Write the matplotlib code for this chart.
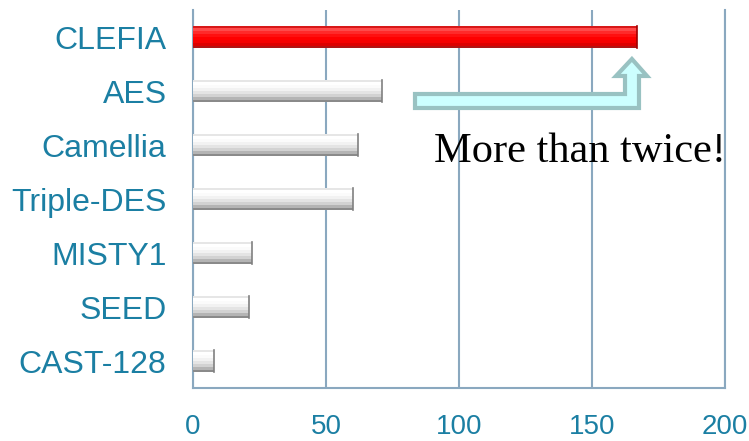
import matplotlib
matplotlib.use('Agg')
import matplotlib.pyplot as plt
from matplotlib.patches import Polygon
import numpy as np

# 数据
ciphers = ['CLEFIA', 'AES', 'Camellia', 'Triple-DES', 'MISTY1', 'SEED', 'CAST-128']
values = [167, 71, 62, 60, 22, 21, 8]
x_ticks = [0, 50, 100, 150, 200]

label_color = '#1b7fa3'
grid_color = '#8aa8bf'

# 渐变条的配色（从上到下）
red_shades = ['#d81818', '#ff4a4a', '#ff2a2a', '#ff1010', '#ff0000', '#f40000', '#dc0000', '#b01414']
white_shades = ['#e6e6e6', '#ffffff', '#fbfbfb', '#f2f2f2', '#e4e4e4', '#d2d2d2', '#b4b4b4', '#8a8a8a']


def bevel_bar(ax, y, w, h, shades, end_color):
    # y轴是反转的，k=0的条带在最上面
    n = len(shades)
    sh = h / n
    for k, c in enumerate(shades):
        yc = y - h / 2 + sh * (k + 0.5)
        ax.barh(yc, w, height=sh, color=c, edgecolor='none', zorder=3)
    # 右端的暗边
    ax.plot([w, w], [y - h / 2, y + h / 2], color=end_color, linewidth=1.2, zorder=3)


if __name__ == '__main__':
    fig = plt.figure(figsize=(7.49, 4.41), dpi=100)
    ax = fig.add_axes([193 / 749, 53 / 441, 532 / 749, 378 / 441])

    ys = np.arange(len(ciphers))
    bar_h = 0.42
    for i, v in enumerate(values):
        if i == 0:
            bevel_bar(ax, ys[i], v, bar_h, red_shades, '#a00000')
        else:
            bevel_bar(ax, ys[i], v, bar_h, white_shades, '#808080')

    ax.set_xlim(0, 200)
    ax.set_ylim(len(ciphers) - 0.5, -0.5)
    ax.set_xticks(x_ticks)
    ax.set_yticks(ys)
    ax.set_yticklabels(ciphers)
    ax.tick_params(axis='both', length=0, colors=label_color)
    ax.tick_params(axis='y', pad=19, labelsize=23)
    ax.tick_params(axis='x', pad=19, labelsize=20)
    for lab in ax.get_xticklabels() + ax.get_yticklabels():
        lab.set_fontfamily('Liberation Sans')

    ax.grid(axis='x', color=grid_color, linewidth=1.5, zorder=0)
    ax.set_axisbelow(True)
    ax.spines['top'].set_visible(False)
    for s in ['left', 'bottom', 'right']:
        ax.spines[s].set_color(grid_color)
        ax.spines[s].set_linewidth(1.5)

    # 折线箭头，顶端对准CLEFIA
    tip = values[0] - 2
    px = lambda p: (p - 193) / 2.66
    py = lambda p: (p - 38) / 54.0
    pts = [(px(415), py(95)), (px(625), py(95)), (px(625), py(77)),
           (px(616), py(77)), (tip, py(60)), (px(647), py(77)),
           (px(639), py(77)), (px(639), py(109)), (px(415), py(109))]
    ax.add_patch(Polygon(pts, closed=True, facecolor='#ccffff', edgecolor='#99c2c2',
                         linewidth=3, zorder=4, clip_on=False))

    ax.text(px(434), py(163), 'More than twice!', fontsize=30.5, family='Liberation Serif',
            color='black', va='baseline', ha='left', zorder=5)

    plt.savefig('out.png', dpi=100)
